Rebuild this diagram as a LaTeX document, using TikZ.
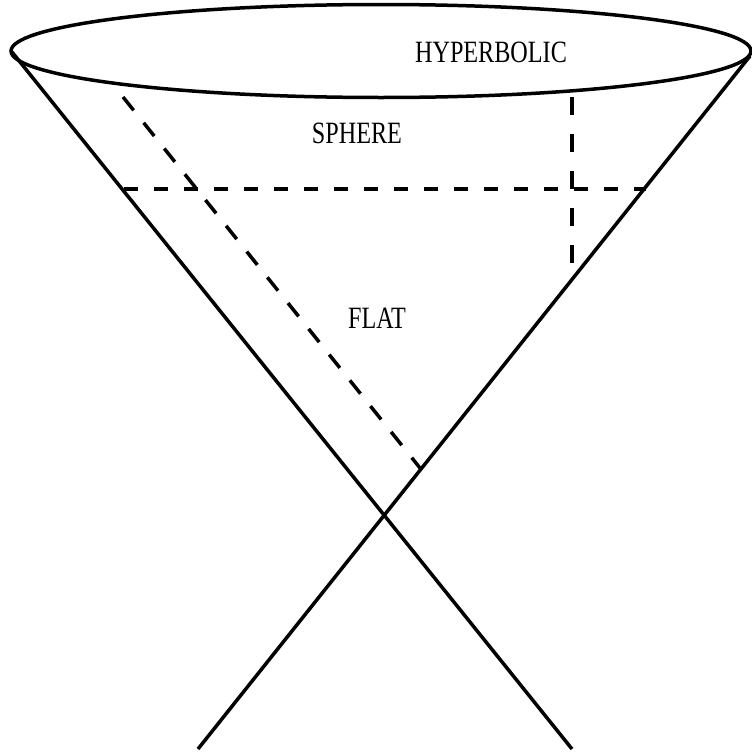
\documentclass[tikz,border=0pt]{standalone}
\usepackage{fontspec}
\setmainfont{Liberation Serif}
\begin{document}
\begin{tikzpicture}[x=1pt,y=-1pt,
  solidline/.style={line width=3.5pt},
  dashline/.style={line width=3.5pt},
  lbl/.style={inner sep=0pt,font=\fontsize{31}{31}\selectfont}]
\useasboundingbox (0,0) rectangle (752,755);
% named points
\coordinate (ltop) at (12,52);
\coordinate (lbot) at (572,749);
\coordinate (rtop) at (750,56);
\coordinate (rbot) at (198,749);
\coordinate (d1) at (123,97);
\coordinate (d2) at (420,468);
\coordinate (h1) at (124,189);
\coordinate (h2) at (646,189);
\coordinate (v1) at (572,97);
\coordinate (v2) at (572,263);
% top rim
\draw[solidline] (381,51) ellipse [x radius=370, y radius=46.5];
% cone edges
\draw[solidline] (ltop) -- (lbot);
\draw[solidline] (rtop) -- (rbot);
% dashed sections
\draw[dashline, dash pattern=on 17pt off 16pt] (d1) -- (d2);
\draw[dashline, dash pattern=on 14pt off 16pt] (h1) -- (h2);
\draw[dashline, dash pattern=on 18pt off 19pt] (v1) -- (v2);
% labels
\node[lbl] (hyp) at (491,52) {\scalebox{0.78}[1]{HYPERBOLIC}};
\node[lbl] (sph) at (357,133) {\scalebox{0.78}[1]{SPHERE}};
\node[lbl] (flt) at (377,318) {\scalebox{0.78}[1]{FLAT}};
\end{tikzpicture}
\end{document}
